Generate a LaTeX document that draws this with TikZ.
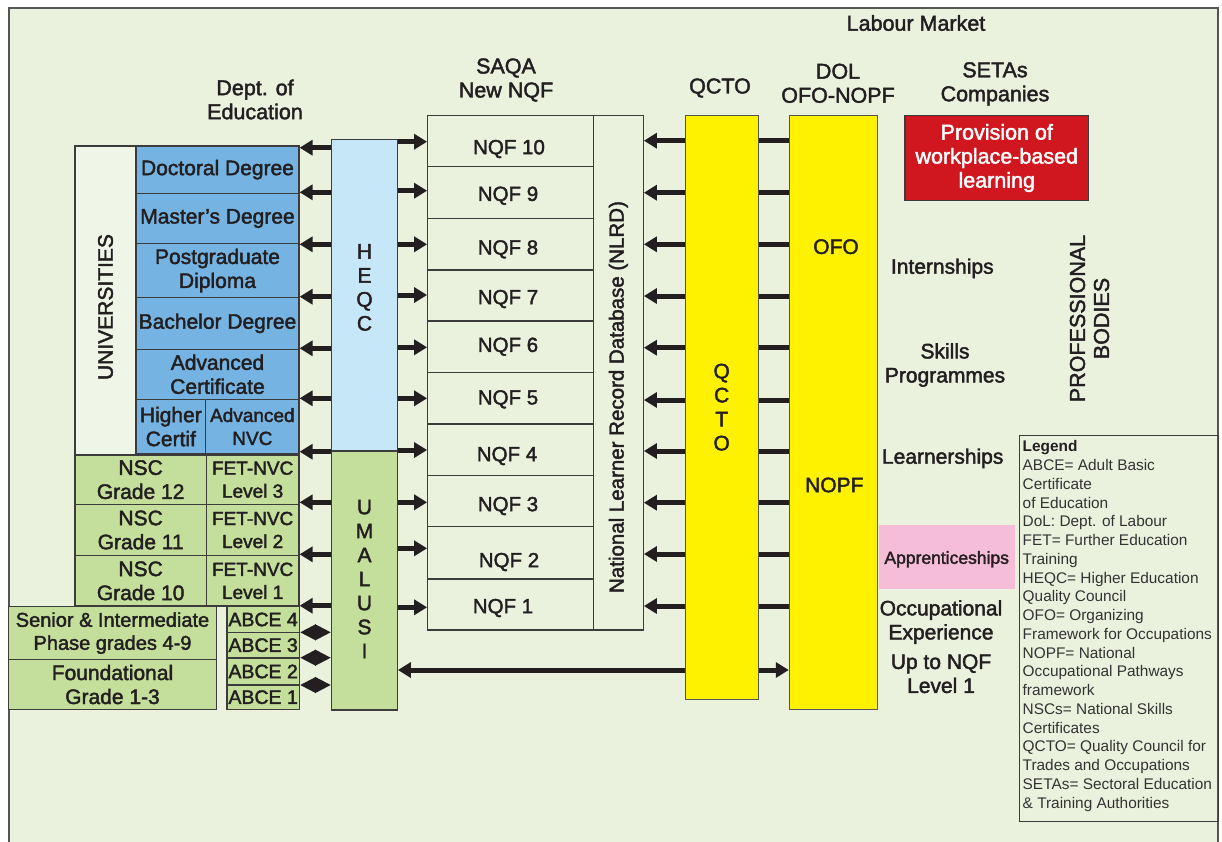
\documentclass[tikz,border=0pt]{standalone}
\usepackage{fontspec}
\setmainfont{Liberation Sans}
\newfontface\medf{Liberation Sans}[FakeBold=2.0]
\usetikzlibrary{arrows.meta}
\definecolor{bg}{HTML}{EAF2DE}
\definecolor{frame}{HTML}{555555}
\definecolor{bord}{HTML}{3C3C3C}
\definecolor{txt}{HTML}{231F20}
\definecolor{arrc}{HTML}{231F20}
\definecolor{blu}{HTML}{74B3E2}
\definecolor{lblu}{HTML}{C6E7F8}
\definecolor{grn}{HTML}{C4DF9B}
\definecolor{yel}{HTML}{FFF200}
\definecolor{redb}{HTML}{D0161F}
\definecolor{pnk}{HTML}{F6BDD8}
\definecolor{univ}{HTML}{EFF5E7}
\definecolor{legt}{HTML}{333333}
\newcommand\fmain{\medf\fontsize{21}{24}\selectfont}
\newcommand\fhead{\medf\fontsize{21.5}{24}\selectfont}
\newcommand\fnqf{\medf\fontsize{20.5}{24}\selectfont}
\newcommand\fsml{\medf\fontsize{19}{23}\selectfont}
\newcommand\fsen{\medf\fontsize{20}{23}\selectfont}
\newcommand\fabce{\medf\fontsize{19.5}{23}\selectfont}
\newcommand\fapp{\medf\fontsize{17.5}{21}\selectfont}
\newcommand\fleg{\fontsize{15.4}{18.75}\selectfont}
\begin{document}
\begin{tikzpicture}[x=1pt,y=-1pt,
  box/.style={draw=bord, line width=1.2pt, inner sep=0pt, align=center, text=txt, font=\fmain},
  lbl/.style={inner sep=0pt, align=center, text=txt, font=\fmain},
  arr/.style={draw=arrc, line width=5pt, -{Triangle[length=13pt,width=15pt]}},
  darr/.style={draw=arrc, line width=5pt, {Triangle[length=16pt,width=15pt]}-{Triangle[length=16pt,width=15pt]}},
  link/.style={draw=arrc, line width=5pt}]
\useasboundingbox (0,0) rectangle (1222,841);
\fill[white] (0,0) rectangle (1222,841);
\fill[bg] (9,8) rectangle (1218,860);
\draw[frame, line width=2pt] (9,860) -- (9,8) -- (1218,8) -- (1218,860);

% headers
\node[lbl, font=\fhead] (labour) at (916,23) {Labour Market};
\node[lbl, font=\fhead] (dept) at (255,99.5) {Dept. of\\Education};
\node[lbl, font=\fhead] (saqa) at (506,80) {SAQA\\New NQF};
\node[lbl, font=\fhead] (qctoh) at (720,88) {QCTO};
\node[lbl, font=\fhead] (dolh) at (838,83.3) {DOL\\OFO-NOPF};
\node[lbl, font=\fhead] (setas) at (995,84) {SETAs\\Companies};

% universities
\node[box, fill=univ, minimum width=61, minimum height=309] (univ) at (105.5,300.5) {};
\node[lbl, rotate=90] (univt) at (105.5,307) {UNIVERSITIES};

% blue boxes
\node[box, fill=blu, minimum width=163, minimum height=47.3] (doc) at (217.5,169.7) {Doctoral Degree};
\node[box, fill=blu, minimum width=163, minimum height=50.4] (mast) at (217.5,218.5) {Master’s Degree};
\node[box, fill=blu, minimum width=163, minimum height=53.6] (pg) at (217.5,270.5) {Postgraduate\\Diploma};
\node[box, fill=blu, minimum width=163, minimum height=52] (bach) at (217.5,323.3) {Bachelor Degree};
\node[box, fill=blu, minimum width=163, minimum height=50] (advc) at (217.5,374.3) {Advanced\\Certificate};
\node[box, fill=blu, minimum width=69.7, minimum height=54.7] (hc) at (170.85,426.65) {Higher\\Certif};
\node[box, fill=blu, minimum width=93.3, minimum height=54.7, font=\fsml] (anvc) at (252.35,426.65) {Advanced\\NVC};

% green boxes
\node[box, fill=grn, minimum width=131.3, minimum height=49.3] (nsc12) at (140.65,479.65) {NSC\\Grade 12};
\node[box, fill=grn, minimum width=92.7, minimum height=49.3, font=\fsml] (fet3) at (252.65,479.65) {FET-NVC\\Level 3};
\node[box, fill=grn, minimum width=131.3, minimum height=51.4] (nsc11) at (140.65,530) {NSC\\Grade 11};
\node[box, fill=grn, minimum width=92.7, minimum height=51.4, font=\fsml] (fet2) at (252.65,530) {FET-NVC\\Level 2};
\node[box, fill=grn, minimum width=131.3, minimum height=50.3] (nsc10) at (140.65,580.85) {NSC\\Grade 10};
\node[box, fill=grn, minimum width=92.7, minimum height=50.3, font=\fsml] (fet1) at (252.65,580.85) {FET-NVC\\Level 1};
\node[box, fill=grn, minimum width=208.4, minimum height=53.2, font=\fsen] (senior) at (112.5,633.1) {Senior \& Intermediate\\Phase grades 4-9};
\node[box, fill=grn, minimum width=208.4, minimum height=49.6] (found) at (112.5,684.5) {Foundational\\Grade 1-3};
\node[box, fill=grn, minimum width=72.3, minimum height=25.6, font=\fabce] (abce4) at (263.15,619.5) {ABCE 4};
\node[box, fill=grn, minimum width=72.3, minimum height=25.7, font=\fabce] (abce3) at (263.15,645.15) {ABCE 3};
\node[box, fill=grn, minimum width=72.3, minimum height=27, font=\fabce] (abce2) at (263.15,671.5) {ABCE 2};
\node[box, fill=grn, minimum width=72.3, minimum height=24.3, font=\fabce] (abce1) at (263.15,697.15) {ABCE 1};

% HEQC / UMALUSI
\node[box, fill=lblu, minimum width=65.6, minimum height=311.7] (heqc) at (364.5,295.15) {};
\node[lbl] (heqct) at (364.5,287.5) {H\\E\\Q\\C};
\node[box, fill=grn, minimum width=65.6, minimum height=259] (umalusi) at (364.5,580.5) {};
\node[lbl] (umat) at (364.5,579) {U\\M\\A\\L\\U\\S\\I};

% NQF column
\foreach \t/\b/\n in {115.3/166.7/10,166.7/218.3/9,218.3/270/8,270/321/7,321/372.7/6,372.7/424/5,424/475.7/4,475.7/526.7/3,526.7/579/2,579/630/1}
  \node[box, minimum width=165.6, minimum height={\b-\t}] (q\n) at (510.5,{(\t+\b)/2}) {};
\foreach \n/\y/\x in {10/149/509,9/195.7/508,8/249.3/508,7/299/508,6/346.7/508,5/399.3/508,4/456/507,3/506/508,2/562/509,1/608/503}
  \node[lbl, font=\fnqf] (tq\n) at (\x,\y) {NQF \n};
\node[box, minimum width=50, minimum height=514.7] (nlrd) at (618.3,372.65) {};
\node[lbl, font=\fnqf, rotate=90] (nlrdt) at (618.3,397) {National Learner Record Database (NLRD)};

% QCTO and DOL
\node[box, fill=yel, draw=frame, line width=1pt, minimum width=73.3, minimum height=583.7] (qcto) at (721.65,407.15) {Q\\C\\T\\O};
\node[box, fill=yel, draw=frame, line width=1pt, minimum width=88.4, minimum height=593.7] (dol) at (833.5,412.15) {};
\node[lbl] (ofo) at (836,246.7) {OFO};
\node[lbl] (nopf) at (834.3,485) {NOPF};

% right side
\node[box, fill=redb, minimum width=183.5, minimum height=85.4, text=white, font=\fhead] (prov) at (996.75,158) {Provision of\\workplace-based\\learning};
\node[lbl] (intern) at (942.3,268.3) {Internships};
\node[lbl] (skills) at (945,365) {Skills\\Programmes};
\node[lbl] (learn) at (942.7,458.3) {Learnerships};
\node[fill=pnk, inner sep=0pt, minimum width=136, minimum height=64.3] (pink) at (947,557.15) {};
\node[lbl, font=\fapp] (appr) at (946.7,559.3) {Apprenticeships};
\node[lbl] (occ) at (941,622) {Occupational\\Experience};
\node[lbl] (upto) at (941,673.7) {Up to NQF\\Level 1};
\node[lbl, rotate=90, font=\fhead] (prof) at (1089.5,318.5) {PROFESSIONAL\\BODIES};

% legend
\draw[bord, line width=1pt] (1019,435) rectangle (1218,821.7);
\node[anchor=north west, inner sep=0pt, align=left, text=legt, font=\fleg] (legend) at (1022.5,440.5)
 {{\color{txt}\bfseries Legend}\\ABCE= Adult Basic\\Certificate\\of Education\\DoL: Dept. of Labour\\FET= Further Education\\Training\\HEQC= Higher Education\\Quality Council\\OFO= Organizing\\Framework for Occupations\\NOPF= National\\Occupational Pathways\\framework\\NSCs= National Skills\\Certificates\\QCTO= Quality Council for\\Trades and Occupations\\SETAs= Sectoral Education\\\& Training Authorities};

% connectors: HEQC/UMALUSI to qualification boxes
\foreach \y in {147.7,192.3,244.3,296.7,348.3,398.3,451.7}
  \draw[arr] (heqc.west |- 0,\y) -- (doc.east |- 0,\y);
\foreach \y in {502.3,554.3,605.7}
  \draw[arr] (umalusi.west |- 0,\y) -- (fet1.east |- 0,\y);
\foreach \y in {632.3,657.7,685}
  \draw[darr] (umalusi.west |- 0,\y) -- (abce4.east |- 0,\y);
% HEQC/UMALUSI to NQF
\foreach \y in {141.7,190.7,244.3,295,347.3,398.3,450}
  \draw[arr] (heqc.east |- 0,\y) -- (q10.west |- 0,\y);
\foreach \y in {502.3,548.3,607.3}
  \draw[arr] (umalusi.east |- 0,\y) -- (q1.west |- 0,\y);
% QCTO to NLRD, QCTO--DOL
\foreach \y in {140.7,192.7,244.3,296,347.7,400,451,502.7,554,606}{
  \draw[arr] (qcto.west |- 0,\y) -- (nlrd.east |- 0,\y);
  \draw[link] (qcto.east |- 0,\y) -- (dol.west |- 0,\y);
}
\draw[arr] (qcto.west |- 0,670) -- (umalusi.east |- 0,670);
\draw[arr] (qcto.east |- 0,670) -- (dol.west |- 0,670);
\end{tikzpicture}
\end{document}
